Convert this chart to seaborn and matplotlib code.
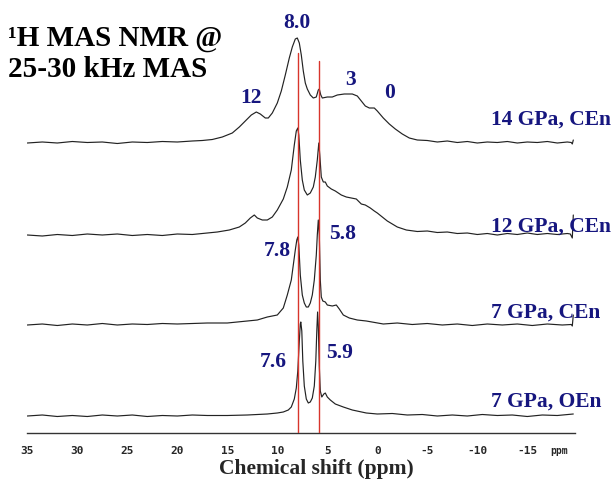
import numpy as np
import pandas as pd
import matplotlib
matplotlib.use("Agg")
import matplotlib.pyplot as plt
import seaborn as sns
from matplotlib.ticker import MultipleLocator, FixedLocator

# ---- data (ppm, intensity above each baseline) ----
labels = ["14 GPa, CEn", "12 GPa, CEn", "7 GPa, CEn", "7 GPa, OEn"]

ppm_14 = [35, 33.5, 32, 30.5, 29, 27.5, 26, 24.5, 23, 21.5, 20, 18.5, 17.5, 16.5, 15.5,
          14.5, 13.8, 13.2, 12.6, 12.1, 11.7, 11.2, 10.9,
          10.5, 10.0, 9.6, 9.2, 8.8, 8.5, 8.2, 8.0, 7.8, 7.6, 7.4, 7.2, 7.0, 6.7, 6.4, 6.1,
          5.9, 5.8, 5.65, 5.5, 5.0, 4.5, 4.0, 3.3, 2.5, 2.0, 1.6, 1.2, 0.8, 0.3, 0.0, -0.6,
          -1.2, -1.8, -2.5, -3.2, -4.0, -5.0, -6.0, -7.0, -8.0, -9.0, -10.0, -11.0, -12.0,
          -13.0, -14.0, -15.0, -16.0, -17.0, -18.0, -19.0, -19.4, -19.5, -19.6]
int_14 = [0, 1, 0, 1.5, 0.5, 1, -0.5, 1, 0.5, 1.5, 1, 2, 2.5, 3.5, 6,
          10, 16, 22, 28, 31, 29, 25, 25,
          30, 40, 52, 68, 85, 96, 104, 105, 100, 88, 72, 60, 54, 48, 45, 46,
          53, 54, 48, 45, 46, 46, 48, 49, 49, 47, 42, 37, 35, 35, 32, 25,
          19, 14, 9, 5, 3, 2.5, 1, 2, 0.5, 1.5, 0, 1, 0.5, 1.5, 0, 1, 0.5, 1.5, 0, 1, 0.5,
          -1, 3]

ppm_12 = [35, 33.5, 32, 30.5, 29, 27.5, 26, 24.5, 23, 21.5, 20, 18.5, 17, 16, 14.8, 13.8,
          13.2, 12.7, 12.3, 12.0, 11.5, 11.0, 10.5, 10.0,
          9.4, 9.0, 8.6, 8.3, 8.1, 7.95, 7.85, 7.7, 7.5, 7.3, 7.0, 6.7, 6.4, 6.2, 6.0, 5.85,
          5.75, 5.6, 5.4, 5.2, 5.0, 4.6, 4.2, 3.6, 3.1, 2.6, 2.1, 1.6, 1.2, 0.7, 0.3, 0.0,
          -0.5, -1.0, -1.5, -2.0, -2.9, -4, -5, -6, -7, -8, -9, -10, -11, -12, -13, -14,
          -15, -16, -17, -18, -19, -19.3, -19.5, -19.6]
int_12 = [0, -1, 0.5, -0.5, 1, 0, 1, -0.5, 0.5, -0.5, 1, 0.5, 2, 3, 5, 8,
          12, 17, 20, 17, 15, 15, 18, 25,
          36, 48, 65, 90, 104, 107, 100, 75, 55, 45, 40, 42, 48, 58, 75, 92,
          80, 58, 53, 53, 49, 46, 44, 40, 38, 37, 36, 31, 30, 27, 24, 22,
          18, 14, 11, 8, 5, 3.5, 4, 2.5, 3, 1.5, 2, 0.5, 1.5, 0, 1.5, 0.5, 2, 0.5, 1.5,
          0.5, 1.5, 1, -3, 20]

ppm_7c = [35, 33.5, 32, 30.5, 29, 27.5, 26, 24.5, 23, 21.5, 20, 18.5, 17, 15, 13, 12, 11,
          10, 9.4, 9.0, 8.6, 8.4, 8.2, 8.05, 7.95, 7.85,
          7.7, 7.5, 7.3, 7.1, 6.9, 6.7, 6.5, 6.3, 6.1, 6.0, 5.9, 5.8, 5.7, 5.6, 5.45, 5.2,
          5.0, 4.5, 4.1, 3.8, 3.4, 2.8, 2.0, 1.1, -0.6, -2, -3.5, -5, -6.5, -8, -9.5, -11,
          -12.5, -14, -15.5, -17, -18.5, -19.4, -19.5, -19.6]
int_7c = [0, 1, -0.5, 1, 0, 1.5, 0, 1, 0.5, 1.5, 1, 1.5, 2, 2, 4, 5, 8,
          10, 17, 30, 45, 60, 75, 85, 88, 80,
          50, 30, 22, 18, 18, 22, 30, 45, 70, 90, 105, 90, 45, 28, 24, 23,
          20, 19, 20, 16, 10, 7, 5, 4, 1, 2, 0.5, 1.5, 0, 1, -0.5, 1, 0, 1, -0.5, 1, 0,
          0.5, -1, 10]

ppm_7o = [35, 33.5, 32, 30.5, 29, 27.5, 26, 24.5, 23, 21.5, 20, 18.5, 17, 15, 13, 11, 10,
          9.4, 8.9, 8.6, 8.3, 8.1, 7.95, 7.8, 7.7, 7.65, 7.55,
          7.45, 7.3, 7.1, 6.9, 6.7, 6.5, 6.3, 6.15, 6.05, 5.97, 5.9, 5.8, 5.7, 5.55, 5.35,
          5.2, 5.0, 4.7, 4.2, 3.4, 2.5, 1.1, 0, -1.5, -3, -4.5, -6, -7.5, -9, -10.5, -12,
          -13.5, -15, -16.5, -18, -19.6]
int_7o = [0, 1, -0.5, 0.5, -0.5, 1, 0, 1, -0.5, 0.5, 0, 1, 0.5, 0.5, 1, 2, 3,
          4, 6, 9, 17, 28, 45, 75, 92, 94, 85,
          55, 30, 17, 13, 14, 18, 30, 55, 85, 104, 90, 50, 25, 19, 22,
          23, 19, 16, 12, 9, 6, 3, 2, 2.5, 1, 1.5, 0, 1, 0, 1.5, 0.5, 1, -0.5, 1, 0.5, 2]

peak_labels = ["8.0", "12", "3", "0", "7.8", "5.8", "7.6", "5.9"]
ref_shifts = [7.93, 5.8]
tick_vals = [35, 30, 25, 20, 15, 10, 5, 0, -5, -10, -15]
tick_text = ["35", "30", "25", "20", "15", "10", "5", "0", "-5", "-10", "-15"]

# ---- layout (vertical units = pixels above the axis line) ----
offsets = [290, 198, 108, 17]
navy = "#16167f"
serif = ["Liberation Serif", "DejaVu Serif"]

traces = [(ppm_14, int_14), (ppm_12, int_12), (ppm_7c, int_7c), (ppm_7o, int_7o)]
frames = []
for name, off, (p, v) in zip(labels, offsets, traces):
    frames.append(pd.DataFrame({"trace": name, "ppm": p, "y": np.array(v) + off}))
df = pd.concat(frames, ignore_index=True)

sns.set_style("white")
plt.rcParams["font.family"] = serif

fig = plt.figure(figsize=(6.15, 4.84), dpi=100)
ax = fig.add_axes([27.3 / 615, 51 / 484, 548 / 615, 433 / 484])

sns.lineplot(data=df, x="ppm", y="y", units="trace", estimator=None, sort=False,
             color="#222222", lw=0.85, ax=ax, legend=False)

# reference lines through the two main resonances
ref_tops = [380, 372]
for s, top in zip(ref_shifts, ref_tops):
    ax.plot([s, s], [0, top], color="#d8352c", lw=1.0, zorder=3)

ax.set_xlim(35, -19.8)
ax.set_ylim(0, 433)
for side in ["left", "right", "top"]:
    ax.spines[side].set_visible(False)
ax.spines["bottom"].set_color("#333333")
ax.spines["bottom"].set_linewidth(1.0)
ax.set_yticks([])
ax.xaxis.set_major_locator(FixedLocator(tick_vals))
ax.set_xticklabels(tick_text, family="DejaVu Sans Mono", fontweight="bold", fontsize=8)
ax.xaxis.set_minor_locator(MultipleLocator(1))
ax.tick_params(axis="x", which="major", direction="out", length=6, width=0.9, pad=3,
               color="#333333")
ax.tick_params(axis="x", which="minor", direction="out", length=3.5, width=0.8,
               color="#333333")
ax.set_xlabel("")
ax.set_ylabel("")

# peak annotations (ppm position, height above axis, alignment)
label_pos = [(8.03, 405, "center"), (12.63, 330, "center"), (2.68, 348, "center"),
             (-1.27, 335, "center"), (8.66, 177, "right"), (4.83, 194, "left"),
             (9.03, 66, "right"), (5.13, 75, "left")]
for txt, (px, py, ha) in zip(peak_labels, label_pos):
    ax.text(px, py, txt, color=navy, fontsize=15.5, fontweight="bold", family=serif,
            ha=ha, va="baseline")

trace_label_y = [308, 201, 115, 26]
for txt, ty in zip(labels, trace_label_y):
    ax.text(-11.37, ty, txt, color=navy, fontsize=15.5, fontweight="bold", family=serif,
            ha="left", va="baseline")

fig.text(8 / 615, 1 - 46 / 484, "\u00b9H MAS NMR @", fontsize=21, fontweight="bold",
         family=serif, color="black", ha="left", va="baseline")
fig.text(8 / 615, 1 - 77 / 484, "25-30 kHz MAS", fontsize=21, fontweight="bold",
         family=serif, color="black", ha="left", va="baseline")
fig.text(316.7 / 615, 1 - 474 / 484, "Chemical shift (ppm)", fontsize=15.5,
         fontweight="bold", family=serif, ha="center", va="baseline")
fig.text(559 / 615, 1 - 454 / 484, "ppm", fontsize=7, fontweight="bold",
         family="DejaVu Sans Mono", ha="center", va="baseline")

fig.savefig("out.png", dpi=100)
